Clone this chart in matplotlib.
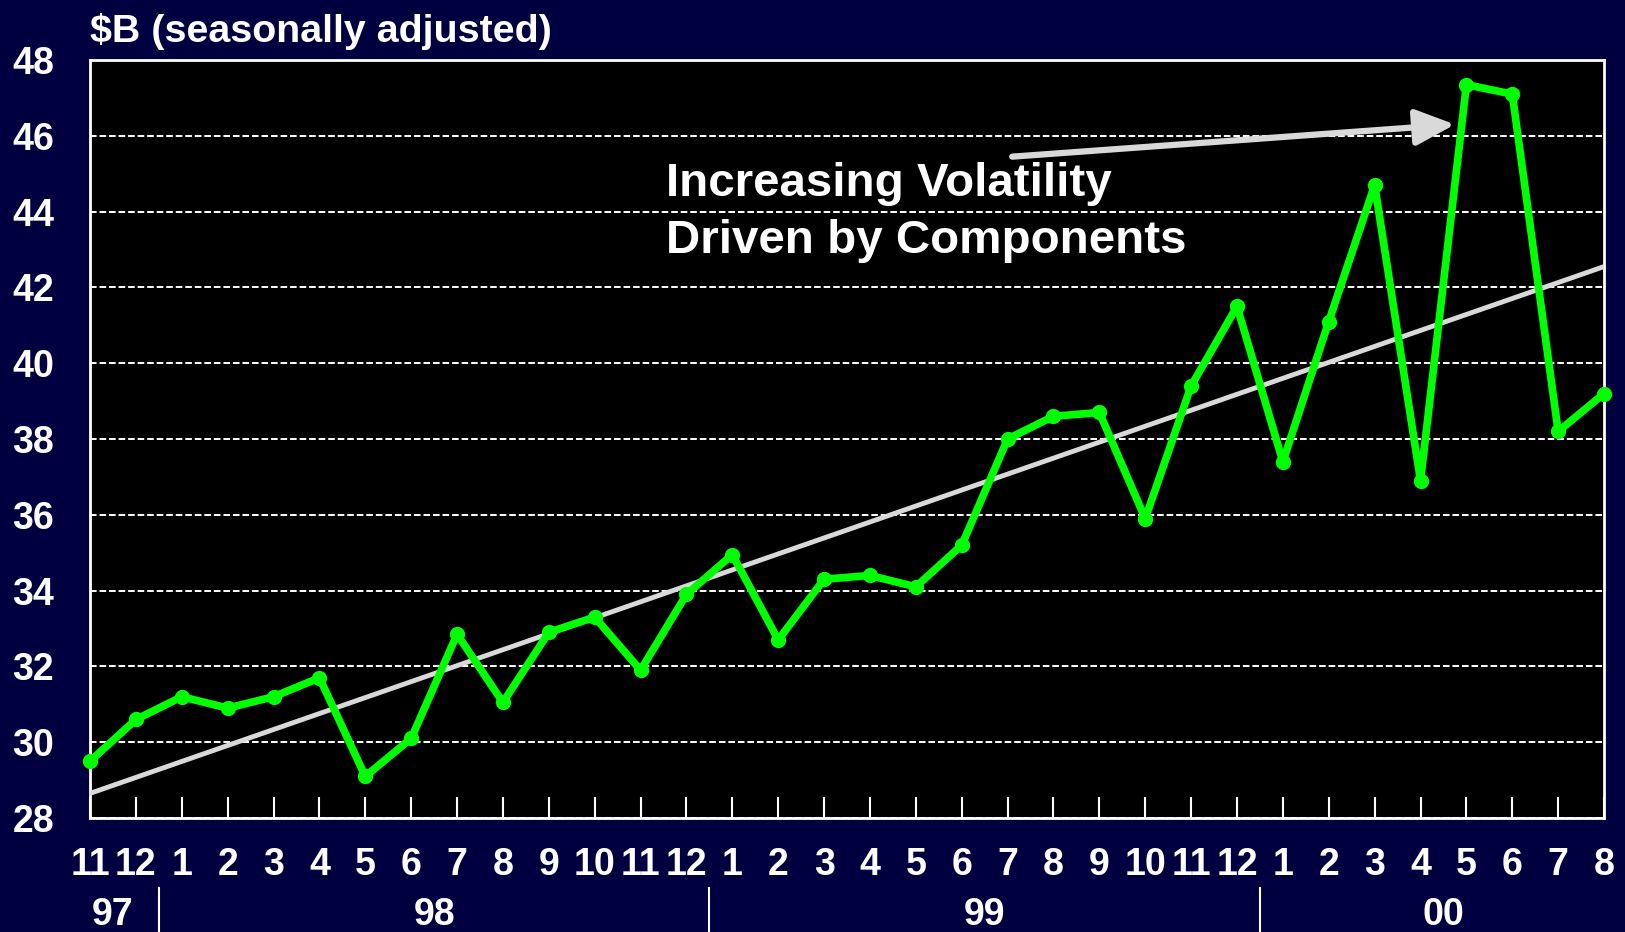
import numpy as np
import matplotlib.pyplot as plt
from matplotlib.transforms import blended_transform_factory
from matplotlib.lines import Line2D

plt.rcParams['font.family'] = ['Liberation Sans', 'DejaVu Sans']
plt.rcParams['font.weight'] = 'bold'

# monthly values, Nov 1997 - Aug 2000 ($B)
months = ['11', '12', '1', '2', '3', '4', '5', '6', '7', '8', '9', '10', '11', '12',
          '1', '2', '3', '4', '5', '6', '7', '8', '9', '10', '11', '12',
          '1', '2', '3', '4', '5', '6', '7', '8']
values = [29.5, 30.6, 31.2, 30.9, 31.2, 31.7, 29.1, 30.1, 32.85, 31.05, 32.9, 33.3, 31.9, 33.9,
          34.95, 32.7, 34.3, 34.4, 34.1, 35.2, 38.0, 38.6, 38.7, 35.9, 39.4, 41.5,
          37.4, 41.1, 44.7, 36.9, 47.35, 47.1, 38.2, 39.2]
trend = [28.65, 42.55]  # trend line at first and last month
years = ['97', '98', '99', '00']
year_centers = [0.5, 7.5, 19.5, 29.5]
year_breaks = [1.5, 13.5, 25.5]

navy = '#000040'
grey = '#D9D9D9'

fig = plt.figure(figsize=(16.25, 9.32), dpi=100, facecolor=navy)
ax = fig.add_axes([0.0554, 0.1223, 0.9317, 0.8133])
ax.set_facecolor('black')

x = np.arange(len(values))
ax.plot([x[0], x[-1]], trend, color=grey, lw=3.5, zorder=3)
ax.plot(x, values, color='#00FF00', lw=5.5, marker='o', ms=10,
        solid_joinstyle='round', zorder=4, clip_on=False)

ax.set_xlim(0, len(values) - 1)
ax.set_ylim(28, 48)
ax.set_yticks(range(28, 49, 2))
ax.set_xticks(x)
ax.set_xticklabels(months)
ax.grid(axis='y', color='white', ls=(0, (3.4, 1.5)), lw=1.4, zorder=1)
ax.set_axisbelow(True)

for s in ax.spines.values():
    s.set_color('white')
    s.set_linewidth(2)

ax.tick_params(axis='x', direction='in', length=15, width=1.5, color='white',
               labelcolor='white', labelsize=27, pad=21)
ax.tick_params(axis='y', length=0, labelcolor='white', labelsize=27, pad=26)

# year row under the month labels
trans = blended_transform_factory(ax.transData, fig.transFigure)
for yr, c in zip(years, year_centers):
    ax.text(c, 1 - 915 / 932, yr, transform=trans, ha='center', va='center',
            color='white', fontsize=27, fontweight='bold')
for b in year_breaks:
    ax.add_line(Line2D([b, b], [1 - 888 / 932, 0], transform=trans, color='white',
                       lw=1.5, clip_on=False))

fig.text(0.0554, 1 - 31 / 932, '$B (seasonally adjusted)', color='white',
         fontsize=28.4, fontweight='bold', ha='left', va='center')

ax.text(12.55, 43.98, 'Increasing Volatility\nDriven by Components', color='white',
        fontsize=34.2, fontweight='bold', ha='left', va='center', linespacing=1.4, zorder=5)
ax.annotate('', xy=(29.75, 46.3), xytext=(20.1, 45.45),
            arrowprops=dict(arrowstyle='-|>,head_length=1.2,head_width=0.55',
                            color=grey, lw=4.5, mutation_scale=20, shrinkA=0, shrinkB=0),
            zorder=5)

fig.savefig('out.png', dpi=100, facecolor=navy)
